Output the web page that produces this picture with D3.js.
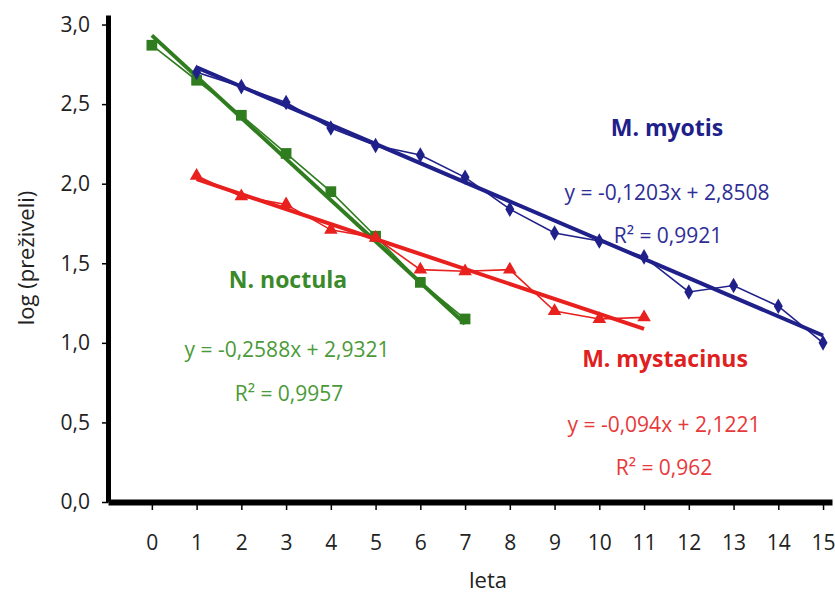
<!DOCTYPE html>
<html>
<meta charset="utf-8">
<head>
    <style>
        body { margin: 0; background: #fff; }
        .axis text { font: 21px "Open Sans", sans-serif; fill: #222; }
        .axis path, .axis line { stroke: #000; fill: none; }
        .lbl { font-family: "Open Sans", sans-serif; text-anchor: middle; }
    </style>
</head>
<body>
    <div id="chart"></div>
    <script src="https://d3js.org/d3.v7.min.js"></script>
    <script>
        // years (leta)
        const noctulaYears = [0, 1, 2, 3, 4, 5, 6, 7];
        const noctulaVals = [2.87, 2.65, 2.43, 2.19, 1.95, 1.67, 1.38, 1.15];

        const myotisYears = [1, 2, 3, 4, 5, 6, 7, 8, 9, 10, 11, 12, 13, 14, 15];
        const myotisVals = [2.70, 2.61, 2.51, 2.35, 2.24, 2.18, 2.04, 1.84, 1.69, 1.64, 1.54, 1.32, 1.36, 1.23, 1.00];

        const mystacinusYears = [1, 2, 3, 4, 5, 6, 7, 8, 9, 10, 11];
        const mystacinusVals = [2.05, 1.92, 1.87, 1.71, 1.66, 1.46, 1.45, 1.46, 1.20, 1.15, 1.16];

        // trend line coefficients [slope, intercept]
        const noctulaFit = [-0.2588, 2.9321];
        const myotisFit = [-0.1203, 2.8508];
        const mystacinusFit = [-0.094, 2.1221];

        const xTicks = [0, 1, 2, 3, 4, 5, 6, 7, 8, 9, 10, 11, 12, 13, 14, 15];
        const yTicks = [0, 0.5, 1, 1.5, 2, 2.5, 3];

        const width = 835, height = 593;

        const svg = d3.select("#chart").append("svg")
            .attr("width", width)
            .attr("height", height);

        const x = d3.scaleLinear().domain([-0.98, 15.2]).range([108, 832]);
        const y = d3.scaleLinear().domain([0, 3.06]).range([502, 15]);

        const fmt = d => d.toFixed(1).replace(".", ",");

        // axes
        const yAxis = svg.append("g")
            .attr("class", "axis")
            .attr("transform", "translate(108,0)")
            .call(d3.axisLeft(y).tickValues(yTicks).tickFormat(fmt).tickSize(6).tickSizeOuter(0).tickPadding(12));
        yAxis.select(".domain").attr("stroke-width", 5);
        yAxis.selectAll(".tick line").attr("stroke-width", 1.5);

        const xAxis = svg.append("g")
            .attr("class", "axis")
            .attr("transform", "translate(0,502)")
            .call(d3.axisBottom(x).tickValues(xTicks).tickFormat(d3.format("d")).tickSize(8).tickSizeOuter(0).tickPadding(25));
        xAxis.select(".domain").attr("stroke-width", 6);
        xAxis.selectAll(".tick line").attr("stroke-width", 1.5);

        svg.append("text")
            .attr("class", "lbl")
            .attr("transform", "translate(34,258) rotate(-90)")
            .style("font-size", "22px")
            .attr("fill", "#222")
            .text("log (preživeli)");

        svg.append("text")
            .attr("class", "lbl")
            .attr("x", 488).attr("y", 588)
            .style("font-size", "22px")
            .attr("fill", "#222")
            .text("leta");

        const series = [
            { years: noctulaYears, vals: noctulaVals, fit: noctulaFit, color: "#2f7d1f", symbol: d3.symbolSquare, size: 115 },
            { years: mystacinusYears, vals: mystacinusVals, fit: mystacinusFit, color: "#e8201e", symbol: d3.symbolTriangle, size: 80 },
            { years: myotisYears, vals: myotisVals, fit: myotisFit, color: "#20208a", symbol: d3.symbolDiamond, size: 70 }
        ];

        const line = d3.line().x(d => x(d[0])).y(d => y(d[1]));

        series.forEach(function (s) {
            const pts = s.years.map((yr, i) => [yr, s.vals[i]]);
            const x0 = d3.min(s.years), x1 = d3.max(s.years);
            const fitPts = [[x0, s.fit[0] * x0 + s.fit[1]], [x1, s.fit[0] * x1 + s.fit[1]]];

            svg.append("path")
                .datum(fitPts)
                .attr("d", line)
                .attr("fill", "none")
                .attr("stroke", s.color)
                .attr("stroke-width", 4);

            svg.append("path")
                .datum(pts)
                .attr("d", line)
                .attr("fill", "none")
                .attr("stroke", s.color)
                .attr("stroke-width", 1.6);

            svg.selectAll(null)
                .data(pts)
                .join("path")
                .attr("transform", d => `translate(${x(d[0])},${y(d[1])})`)
                .attr("d", d3.symbol().type(s.symbol).size(s.size))
                .attr("fill", s.color);
        });

        // annotations
        const notes = [
            { text: "M. myotis", x: 667, y: 136, color: "#20208a", bold: true },
            { text: "y = -0,1203x + 2,8508", x: 667, y: 200, color: "#2e2e96" },
            { text: "R² = 0,9921", x: 668, y: 243, color: "#2e2e96" },
            { text: "N. noctula", x: 288, y: 288, color: "#3a8a2a", bold: true },
            { text: "y = -0,2588x + 2,9321", x: 287, y: 357, color: "#4a9a38" },
            { text: "R² = 0,9957", x: 289, y: 401, color: "#4a9a38" },
            { text: "M. mystacinus", x: 665, y: 367, color: "#e0201e", bold: true },
            { text: "y = -0,094x + 2,1221", x: 664, y: 432, color: "#e8383a" },
            { text: "R² = 0,962", x: 664, y: 475, color: "#e8383a" }
        ];

        svg.selectAll(null)
            .data(notes)
            .join("text")
            .attr("class", "lbl")
            .attr("x", d => d.x)
            .attr("y", d => d.y)
            .attr("fill", d => d.color)
            .style("font-size", d => d.bold ? "23px" : "21px")
            .style("font-weight", d => d.bold ? "bold" : "normal")
            .text(d => d.text);
    </script>
</body>
</html>
